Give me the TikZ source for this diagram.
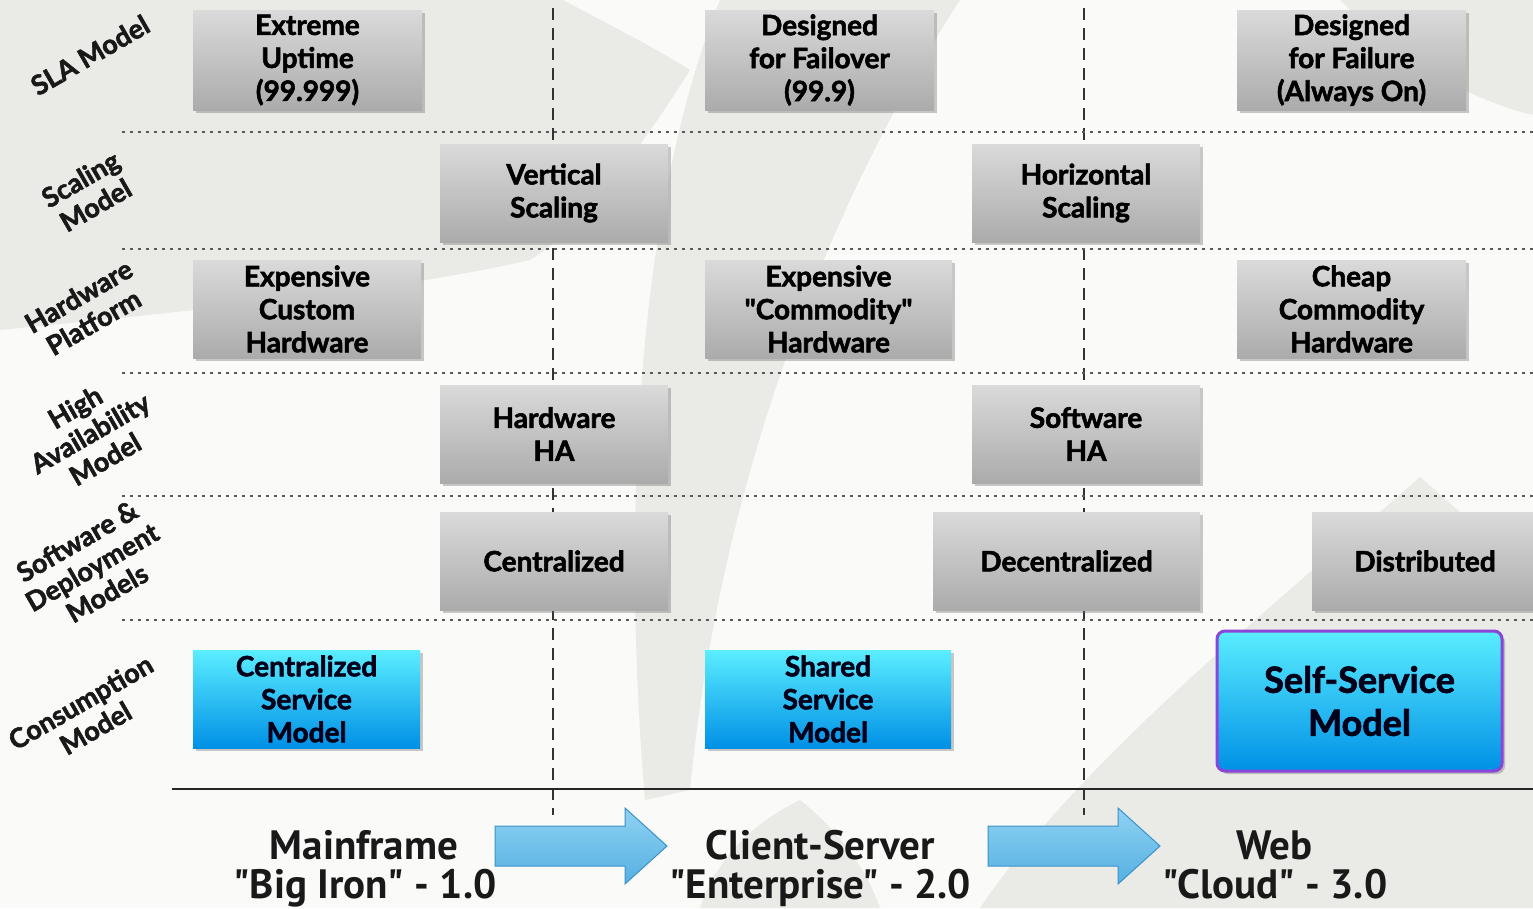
\documentclass[tikz,border=0pt]{standalone}
\usepackage{fontspec}
\setmainfont{Lato}[Ligatures=TeXOff, BoldFeatures={FakeBold=2}]
\newfontfamily\botfont{PT Sans}[Ligatures=TeXOff]
\usetikzlibrary{shadows,calc}
\newcommand{\dq}{{\char34}}
\definecolor{bgwhite}{HTML}{FAFAF8}
\definecolor{bggrey}{HTML}{EAEAE6}
\definecolor{gtop}{HTML}{DADADA}
\definecolor{gbot}{HTML}{ABABAB}
\definecolor{ctop}{HTML}{5AEEFF}
\definecolor{cmid}{HTML}{14C0F4}
\definecolor{cbot}{HTML}{0090E6}
\definecolor{purp}{HTML}{8A46D8}
\definecolor{atop}{HTML}{8FD2F2}
\definecolor{abot}{HTML}{55B0E2}
\definecolor{aedge}{HTML}{3B92C8}
\tikzset{
  gbox/.style={inner sep=0pt, align=center, text=black,
    top color=gtop, bottom color=gbot,
    drop shadow={shadow xshift=3pt, shadow yshift=-3pt, opacity=0.35, fill=black!60},
    font=\bfseries\fontsize{28}{33}\selectfont},
  cbox/.style={inner sep=0pt, align=center, text=black!90!blue,
    top color=ctop, middle color=cmid, bottom color=cbot,
    drop shadow={shadow xshift=3pt, shadow yshift=-3pt, opacity=0.35, fill=black!60},
    font=\bfseries\fontsize{28}{33}\selectfont},
  rowlab/.style={rotate=30, align=center, text=black!90,
    font=\bfseries\fontsize{27}{30}\selectfont},
  eralab/.style={anchor=base, text=black!90,
    font=\botfont\bfseries\fontsize{41}{44}\selectfont},
  vsep/.style={draw=black!80, line width=1.4pt, dash pattern=on 12pt off 8pt},
  hsep/.style={draw=black!65, line width=1.6pt, dash pattern=on 3pt off 5pt},
  baseline/.style={draw=black!85, line width=2pt},
  bigarrow/.style={top color=atop, bottom color=abot, draw=aedge, line width=1pt, line join=miter},
}
\begin{document}
\begin{tikzpicture}[x=1pt,y=-1pt]
\useasboundingbox (0,0) rectangle (1533,908);
% background watermark
\fill[bgwhite] (0,0) rectangle (1533,908);
\fill[bggrey] (0,0) -- (563,0) .. controls (600,20) and (650,45) .. (690,70)
  .. controls (640,150) and (580,230) .. (530,260)
  .. controls (400,290) and (200,310) .. (0,330) -- cycle;
\fill[bggrey] (720,0) -- (960,0) .. controls (830,200) and (720,480) .. (690,790)
  -- (645,800) .. controls (620,500) and (640,200) .. (720,0) -- cycle;
\fill[bggrey] (1420,477) .. controls (1470,520) and (1500,550) .. (1533,570)
  -- (1533,908) -- (980,908) .. controls (1080,760) and (1280,600) .. (1420,477) -- cycle;
\fill[bggrey] (1340,0) -- (1533,0) -- (1533,115) .. controls (1470,100) and (1400,60) .. (1340,0) -- cycle;
\fill[bggrey] (700,908) .. controls (720,850) and (760,820) .. (800,800)
  .. controls (850,840) and (870,880) .. (880,908) -- cycle;

% grid coordinates
\coordinate (v1t) at (553,8);   \coordinate (v1b) at (553,815);
\coordinate (v2t) at (1084,8);  \coordinate (v2b) at (1084,815);
\foreach \y [count=\i] in {132,249,373,496,620} {
  \coordinate (h\i l) at (122,\y);
  \coordinate (h\i r) at (1533,\y);
}
\coordinate (bl) at (172,789); \coordinate (br) at (1533,789);

\draw[vsep] (v1t) -- (v1b);
\draw[vsep] (v2t) -- (v2b);
\foreach \i in {1,...,5} { \draw[hsep] (h\i l) -- (h\i r); }
\draw[baseline] (bl) -- (br);

% row labels
\node[rowlab] (lsla) at (90,55) {SLA Model};
\node[rowlab] (lscal) at (88,192) {Scaling\\Model};
\node[rowlab] (lhw) at (86,309) {Hardware\\Platform};
\node[rowlab] (lha) at (90,433) {High\\Availability\\Model};
\node[rowlab] (lsw) at (92,567) {Software \&\\Deployment\\Models};
\node[rowlab] (lcons) at (88,715) {Consumption\\Model};

% SLA row
\node[gbox, minimum width=229pt, minimum height=100pt] (sla1) at (307.5,60) {Extreme\\Uptime\\(99.999)};
\node[gbox, minimum width=229pt, minimum height=100pt] (sla2) at (819.5,60) {Designed\\for Failover\\(99.9)};
\node[gbox, minimum width=229pt, minimum height=100pt] (sla3) at (1351.5,60) {Designed\\for Failure\\(Always On)};
% Scaling row
\node[gbox, minimum width=228pt, minimum height=98pt] (sc1) at (554,193) {Vertical\\Scaling};
\node[gbox, minimum width=228pt, minimum height=98pt] (sc2) at (1086,193) {Horizontal\\Scaling};
% Hardware row
\node[gbox, minimum width=228pt, minimum height=98pt] (hw1) at (307,309) {Expensive\\Custom\\Hardware};
\node[gbox, minimum width=247pt, minimum height=98pt] (hw2) at (828.5,309) {Expensive\\\dq Commodity\dq\\Hardware};
\node[gbox, minimum width=229pt, minimum height=98pt] (hw3) at (1351.5,309) {Cheap\\Commodity\\Hardware};
% HA row
\node[gbox, minimum width=228pt, minimum height=98pt] (ha1) at (554,434) {Hardware\\HA};
\node[gbox, minimum width=228pt, minimum height=98pt] (ha2) at (1086,434) {Software\\HA};
% Software row
\node[gbox, minimum width=228pt, minimum height=98pt] (sw1) at (554,561) {Centralized};
\node[gbox, minimum width=267pt, minimum height=98pt] (sw2) at (1066.5,561) {Decentralized};
\node[gbox, minimum width=226pt, minimum height=98pt] (sw3) at (1425,561) {Distributed};
% Consumption row
\node[cbox, minimum width=227pt, minimum height=98pt] (cm1) at (306.5,699) {Centralized\\Service\\Model};
\node[cbox, minimum width=246pt, minimum height=98pt] (cm2) at (828,699) {Shared\\Service\\Model};
\node[cbox, minimum width=285pt, minimum height=140pt, draw=purp, line width=3pt, rounded corners=8pt,
  font=\bfseries\fontsize{36}{43}\selectfont] (cm3) at (1359.5,701) {Self-Service\\Model};

% era labels
\node[eralab] (era1) at (364,859) {Mainframe};
\node[eralab] (era1b) at (365,898) {\dq Big Iron\dq{} - 1.0};
\node[eralab] (era2) at (820,859) {Client-Server};
\node[eralab] (era2b) at (820,898) {\dq Enterprise\dq{} - 2.0};
\node[eralab] (era3) at (1274,859) {Web};
\node[eralab] (era3b) at (1275,898) {\dq Cloud\dq{} - 3.0};

% arrows
\coordinate (a1s) at (495,846); \coordinate (a1t) at (667,846);
\coordinate (a2s) at (988,846); \coordinate (a2t) at (1160,846);
\path[bigarrow] (a1s) ++(0,-20) -- ++(130,0) -- ++(0,-18) -- (a1t) -- ++(-42,38) -- ++(0,-18) -- ++(-130,0) -- cycle;
\path[bigarrow] (a2s) ++(0,-20) -- ++(130,0) -- ++(0,-18) -- (a2t) -- ++(-42,38) -- ++(0,-18) -- ++(-130,0) -- cycle;
\end{tikzpicture}
\end{document}
